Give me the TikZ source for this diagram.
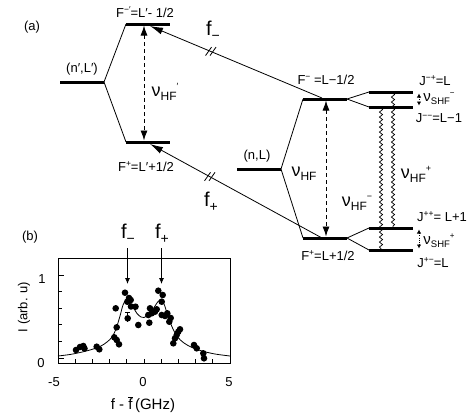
\documentclass[tikz,border=0pt]{standalone}
\usepackage{fontspec}
\setmainfont{Liberation Sans}
\usetikzlibrary{arrows.meta,decorations.pathmorphing,calc}
\newcommand\sups[1]{\raisebox{4.8pt}{\fontsize{8.5}{8.5}\selectfont #1}}
\newcommand\nuBig[2]{{\fontsize{18}{18}\selectfont ν}\raisebox{-4pt}{\fontsize{12}{12}\selectfont HF}\raisebox{7pt}{\fontsize{9}{9}\selectfont #2}}
\newcommand\nuSmall[1]{{\fontsize{15}{15}\selectfont ν}\raisebox{-3pt}{\fontsize{9.5}{9.5}\selectfont SHF}\raisebox{5.5pt}{\fontsize{8}{8}\selectfont #1}}
\newcommand\fLab[1]{{\fontsize{20}{20}\selectfont f}\raisebox{-4.5pt}{\fontsize{14}{14}\selectfont #1}}
\begin{document}
\begin{tikzpicture}[x=1pt,y=-1pt,
  level/.style={line width=3pt},
  fan/.style={line width=0.8pt},
  lab/.style={font=\fontsize{13}{13}\selectfont, inner sep=0pt},
  big/.style={inner sep=0pt},
  hfarrow/.style={line width=0.9pt, dash pattern=on 4pt off 3pt, {Latex[length=10pt,width=7pt]}-{Latex[length=10pt,width=7pt]}},
  farrow/.style={line width=0.8pt, -{Latex[length=13pt,width=7pt]}},
  wavy/.style={line width=0.7pt, decorate, decoration={snake, amplitude=1.6pt, segment length=5pt}},
  shfarrow/.style={line width=0.8pt, dash pattern=on 1pt off 1.2pt, {Latex[length=4pt,width=4.5pt]}-{Latex[length=4pt,width=4.5pt]}},
  slash/.style={line width=0.8pt},
  dot/.style={fill=black},
  axis/.style={line width=0.8pt},
  tick/.style={line width=0.7pt},
  parrow/.style={line width=0.8pt, -{Latex[length=6pt,width=5pt]}}
]
\useasboundingbox (0,0) rectangle (469,416);

% ---------- left levels (n',L') ----------
\coordinate (nLpa) at (60,82);  \coordinate (nLpb) at (104,82);
\coordinate (Fmpa) at (126,24); \coordinate (Fmpb) at (170,24);
\coordinate (Fppa) at (126,142);\coordinate (Fppb) at (170,142);
\draw[level] (nLpa) -- (nLpb);
\draw[level] (Fmpa) -- (Fmpb);
\draw[level] (Fppa) -- (Fppb);
\draw[fan] (nLpb) -- (Fmpa);
\draw[fan] (nLpb) -- (Fppa);
\coordinate (hfpt) at (144,25.5); \coordinate (hfpb) at (144,140.5);
\draw[hfarrow] (hfpt) -- (hfpb);

% ---------- right levels (n,L) ----------
\coordinate (nLa) at (237,169); \coordinate (nLb) at (281,169);
\coordinate (Fma) at (303,99);  \coordinate (Fmb) at (347,99);
\coordinate (Fpa) at (303,238); \coordinate (Fpb) at (347,238);
\draw[level] (nLa) -- (nLb);
\draw[level] (Fma) -- (Fmb);
\draw[level] (Fpa) -- (Fpb);
\draw[fan] (nLb) -- (Fma);
\draw[fan] (nLb) -- (Fpa);
\coordinate (hft) at (326,100.5); \coordinate (hfb) at (326,236.5);
\draw[hfarrow] (hft) -- (hfb);

% J levels
\coordinate (Jmpa) at (369,92);  \coordinate (Jmpb) at (413,92);
\coordinate (Jmma) at (369,107); \coordinate (Jmmb) at (413,107);
\coordinate (Jppa) at (369,228); \coordinate (Jppb) at (413,228);
\coordinate (Jpma) at (369,250); \coordinate (Jpmb) at (413,250);
\draw[level] (Jmpa) -- (Jmpb);
\draw[level] (Jmma) -- (Jmmb);
\draw[level] (Jppa) -- (Jppb);
\draw[level] (Jpma) -- (Jpmb);
\draw[fan] (Fmb) -- (Jmpa);
\draw[fan] (Fmb) -- (Jmma);
\draw[fan] (Fpb) -- (Jppa);
\draw[fan] (Fpb) -- (Jpma);

% wavy transitions
\coordinate (wRt) at (393,93);  \coordinate (wRb) at (393,227);
\coordinate (wLt) at (381,108); \coordinate (wLb) at (381,249);
\draw[wavy] (wRt) -- (wRb);
\draw[wavy] (wLt) -- (wLb);

% SHF small arrows
\coordinate (smt) at (419,93.5);  \coordinate (smb) at (419,105.5);
\coordinate (spt) at (419,229.5); \coordinate (spb) at (419,248.5);
\draw[shfarrow] (smt) -- (smb);
\draw[shfarrow] (spt) -- (spb);

% ---------- laser transitions ----------
\coordinate (fmS) at (322,98);  \coordinate (fmE) at (150,26);
\coordinate (fpS) at (322,238); \coordinate (fpE) at (150,144);
\draw[farrow] (fmS) -- (fmE);
\draw[farrow] (fpS) -- (fpE);
\coordinate (sm) at ($(fmS)!0.645!(fmE)$);
\coordinate (sp) at ($(fpS)!0.651!(fpE)$);
\foreach \c in {sm,sp}{
  \draw[slash] ($(\c)+(-5.5,4)$) -- ++(6,-8.5);
  \draw[slash] ($(\c)+(-1.0,4)$) -- ++(6,-8.5);
}

% ---------- labels (a) ----------
\node[lab] (labA) at (32,27) {(a)};
\node[lab] (labFmp) at (145,12) {F\sups{−′}=L′- 1/2};
\node[lab] (labnLp) at (82,69) {(n′,L′)};
\node[lab] (labFpp) at (146,167) {F\sups{+}=L′+1/2};
\node[big] (nuHFp) at (165,92) {\nuBig{HF}{′}};
\node[big] (fmLab) at (213,31) {\fLab{−}};
\node[big] (fpLab) at (211,202) {\fLab{+}};
\node[lab] (labnL) at (257,156) {(n,L)};
\node[big] (nuHF) at (304,174) {\nuBig{HF}{}};
\node[lab] (labFm) at (326,80) {F\sups{−} =L−1/2};
\node[lab] (labFp) at (328,256) {F\sups{+}=L+1/2};
\node[lab] (labJmp) at (435,80.5) {J\sups{−+}=L};
\node[big] (nuSm) at (439,98.5) {\nuSmall{−}};
\node[lab] (labJmm) at (439,118.5) {J\sups{−−}=L−1};
\node[big] (nuHFplus) at (416,174) {\nuBig{HF}{+}};
\node[big] (nuHFminus) at (357,203) {\nuBig{HF}{−}};
\node[lab] (labJpp) at (442,216.5) {J\sups{++}= L+1};
\node[big] (nuSp) at (439,240.5) {\nuSmall{+}};
\node[lab] (labJpm) at (433,262.5) {J\sups{+−}=L};

% ---------- plot (b) ----------
\node[lab] (labB) at (30,237) {(b)};
\draw[axis] (58,258) rectangle (230,363);
\foreach \k in {0,...,10}{
  \draw[tick] ({58+17.2*\k},363) -- ({58+17.2*\k},358.5);
}
\foreach \k in {1,2,3,4}{
  \draw[tick] (58,{358-16.6*\k}) -- (61.5,{358-16.6*\k});
}
\draw[tick] (58,358) -- (64,358);
\draw[tick] (58,275) -- (64,275);
\node[lab] (y0) at (41,363) {0};
\node[lab] (y1) at (42,279) {1};
\node[lab] (xm5) at (54,382) {-5};
\node[lab] (x0) at (143,382) {0};
\node[lab] (x5) at (229,382) {5};
\node[lab, rotate=90] (ylab) at (24,307) {I (arb. u)};
\node[inner sep=0pt, font=\fontsize{15}{15}\selectfont] (xlab) at (143,405) {f - \ensuremath{\overline{\mbox{f}}}\,(GHz)};

% fit curve
\draw[line width=0.8pt] plot[smooth, tension=0.55] coordinates {
 (58,356) (70,354.5) (80,352.5) (90,350) (100,346.5) (107,342) (112,337)
 (116,329) (120,316) (123,305) (126,300) (129,301) (133,307) (137,313.5)
 (141,317) (144,317.5) (147,316) (151,312) (155,306) (158.5,301) (161,300.5)
 (164,304) (167,313) (170,322) (174,331) (178,337.5) (184,343) (192,347.5)
 (202,351) (215,354) (230,356)};

% data points
\foreach \p in {(76,350),(80,347),(83.3,346),(84.5,348.5),(96.7,346.7),(99.3,349.3),
 (114.3,337.3),(116.7,340),(119,344.3),(116.7,327.3),(115.7,308.3),(125,292.7),
 (129,298),(127.3,301.7),(130.7,300),(127.7,318.3),(131,306.5),(135.5,306.7),
 (138.3,325),(148.3,315),(149.3,322.7),(150,308.3),(151.7,313.3),(155,311.7),
 (156.7,309.3),(158.3,290.7),(162.7,295),(161.7,301.7),(161.7,315),(165,316),
 (167.3,313.3),(169.3,321.7),(170.7,318),(173.3,343.3),(175,338.3),(176.7,335),
 (178.3,331.7),(180,329.3),(194,345),(196.7,348.3),(203.3,353.3),(204,358.3)}{
  \fill[dot] \p circle (3.3pt);
}
% error bar
\draw[line width=0.7pt] (127.7,312.5) -- (127.7,322);
\draw[line width=0.7pt] (125.2,312.5) -- (130.2,312.5);

% peak markers
\node[big] (pfm) at (128,234) {\fLab{−}};
\node[big] (pfp) at (162,234) {\fLab{+}};
\coordinate (pfmS) at (127.5,248); \coordinate (pfmE) at (127.5,284);
\coordinate (pfpS) at (161.5,248); \coordinate (pfpE) at (161.5,284);
\draw[parrow] (pfmS) -- (pfmE);
\draw[parrow] (pfpS) -- (pfpE);
\end{tikzpicture}
\end{document}
